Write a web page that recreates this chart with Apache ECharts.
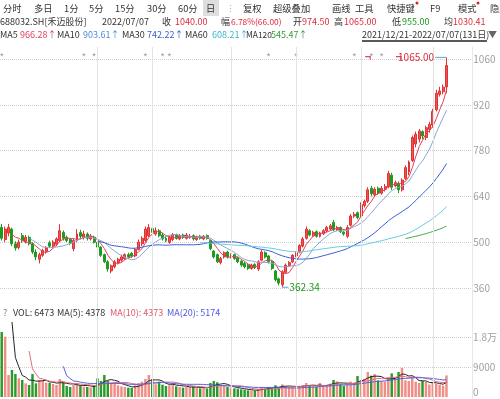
<!DOCTYPE html>
<html><head><meta charset="utf-8">
<script src="https://cdn.jsdelivr.net/npm/echarts@6/dist/echarts.min.js"></script>
<style>html,body{margin:0;padding:0;background:#fff}#c{width:500px;height:399px}</style>
</head><body><div id="c"></div>
<script>
// ---------- data ----------
const monthDays = [
  ['2021/12', [21,22,23,24,27,28,29,30,31]],
  ['2022/01', [4,5,6,7,10,11,12,13,14,17,18,19,20,21,24,25,26,27,28]],
  ['2022/02', [7,8,9,10,11,14,15,16,17,18,21,22,23,24,25,28]],
  ['2022/03', [1,2,3,4,7,8,9,10,11,14,15,16,17,18,21,22,23,24,25,28,29,30,31]],
  ['2022/04', [1,6,7,8,11,12,13,14,15,18,19,20,21,22,25,26,27,28,29]],
  ['2022/05', [5,6,9,10,11,12,13,16,17,18,19,20,23,24,25,26,27,30,31]],
  ['2022/06', [1,2,6,7,8,9,10,13,14,15,16,17,20,21,22,23,24,27,28,29,30]],
  ['2022/07', [1,4,5,6,7]]
];
const opens = [545,508,528,540,495,484,520,502,515,495,470,448,460,472,498,488,494,505,530,515,
508,480,505,530,515,525,510,515,500,485,462,440,412,425,438,445,450,462,466,458,
478,495,505,520,542,525,535,522,512,500,508,522,510,522,512,515,520,508,518,510,
520,505,473,462,438,455,470,455,462,452,442,435,430,420,432,418,445,468,458,440,
412,388,370,408,428,440,458,470,488,512,535,520,532,518,526,535,540,560,538,545,
530,518,552,580,590,580,612,625,665,645,665,650,662,670,705,672,680,660,695,715,
750,800,815,838,820,845,858,905,952,960,974.5];
const closes = [512,540,545,495,482,500,505,515,495,470,455,462,475,482,488,500,510,535,512,505,
497,505,525,518,525,512,518,500,485,460,440,418,428,440,448,455,462,455,458,478,
500,512,540,545,530,535,520,510,505,515,522,512,520,515,522,518,510,516,512,518,
512,480,455,440,450,468,455,462,450,440,430,425,420,430,422,440,470,455,440,420,
385,375,410,430,438,460,468,490,510,540,522,530,518,528,535,545,550,538,545,532,
525,545,580,585,575,615,625,660,648,662,650,665,670,710,668,682,660,690,728,745,
820,830,840,825,850,860,900,955,962,974,1040];
const lows = [505,500,518,488,474,478,498,496,490,464,445,435,455,465,482,482,488,500,505,500,
492,472,500,510,508,505,505,496,480,455,436,410,405,420,432,440,446,450,452,454,
475,488,500,515,525,520,515,505,500,495,503,508,506,510,508,510,505,504,508,506,
508,475,450,436,432,450,450,450,446,436,425,420,415,416,418,412,442,450,435,415,
380,368,362.34,404,424,436,454,466,484,508,518,516,514,514,522,530,536,534,534,528,
520,512,548,574,570,576,606,620,640,638,645,645,655,665,660,668,650,655,690,705,
745,790,805,815,812,835,850,900,945,952,955];
const highs = [556,548,556,544,503,508,528,522,520,500,478,468,480,488,505,506,515,555,536,520,
512,510,540,538,535,530,525,520,505,488,465,445,432,445,452,462,466,468,470,482,
508,518,548,555,548,545,540,528,518,520,528,526,525,526,528,525,524,520,522,522,
524,508,476,465,455,472,474,466,465,455,445,440,434,434,436,445,476,472,460,444,
415,392,414,435,442,464,472,494,516,548,540,535,536,532,540,550,556,568,550,548,
535,552,586,592,594,622,630,668,672,668,670,672,678,718,712,688,686,695,735,750,
826,838,846,842,856,868,908,966,975,982,1065];
const volumes = [19500,18100,6600,8100,6900,5600,5100,4100,3600,6900,4100,5100,4800,4300,4200,3900,3600,5400,4300,3300,
3000,3600,4200,3400,3100,3000,2900,3300,5600,4800,6600,4800,4300,4500,3500,3200,3000,2800,2700,3500,
4100,4600,5400,6600,5200,3800,4600,3700,3300,3500,4200,3200,3000,2800,3100,2900,3200,2700,2600,2800,
2500,4200,4800,4400,3500,3300,3000,2800,2600,2500,2300,2200,2000,1900,1800,2400,3000,2500,3000,2600,
3500,3000,3800,3300,2900,3100,2800,3400,3600,4200,3400,3200,3000,4200,3400,3600,4000,5100,4700,3800,
3300,3900,4600,4300,6300,5000,5400,7500,6400,6900,5000,4800,4600,5800,7100,5500,7500,8700,5000,4800,
6000,4600,4200,4800,4500,3740,4300,4000,3700,3417,6473];
// listing day (2021/12/20), before the window, only enters the moving averages
const listingClose = 530;
const listingVolume = 60200;
const priceTicks = [360, 1072, 140];
const volTicks = [0, 22800, 9000];
const maDays = [5, 10, 30, 60, 120];
const maColors = ['#e2405e', '#86a6cf', '#3c5cd6', '#62cde2', '#48a84c'];
const volMaDays = [5, 10, 20];
const volMaColors = ['#222222', '#e46a7c', '#5262e2'];
const eventIdx = [0, 24, 27, 42, 47, 49, 78, 86, 103, 108, 111];
const flagIdx = [107, 116];
const monthLineIdx = [28, 44, 67, 86, 105, 126];

// ---------- helpers ----------
const dates = [];
monthDays.forEach(([ym, ds]) => ds.forEach(d => dates.push(ym + '/' + String(d).padStart(2, '0'))));
const cats = dates.concat(['_1','_2','_3','_4','_5','_6','_7']);
function ma(arr, n) {
  const out = [];
  for (let j = 0; j < arr.length; j++) {
    if (j < n - 1) { out.push('-'); continue; }
    let s = 0; for (let k = j - n + 1; k <= j; k++) s += arr[k];
    out.push(+(s / n).toFixed(2));
  }
  return out.slice(1);
}
const fullClose = [listingClose].concat(closes);
const fullVol = [listingVolume].concat(volumes);
const kData = closes.map((c, i) => [opens[i], c, lows[i], highs[i]]);
const volData = volumes.map((v, i) => ({ value: v, itemStyle: { color: closes[i] >= opens[i] ? '#f08d86' : '#2b9a2b' } }));

const FONT = '"Noto Sans CJK SC", "Noto Sans", sans-serif';
const RED = '#dd2c3c', GREEN = '#1b961b', DARK = '#333333';
function t(x, y, s, fill, size) {
  return { type: 'text', x: x, y: y, z: 10,
    style: { text: s, fill: fill || DARK, font: (size || 9) + 'px ' + FONT, verticalAlign: 'middle', align: 'left' } };
}
const M = 9.3;
const pxPer = 229 / 700;
const G = { left: -1, width: 473.3 };

const graphics = [
  { type: 'rect', shape: { x: 203, y: 0, width: 16, height: 16 }, style: { fill: '#dedede' }, z: 5 },
  t(3, 8, '分时', DARK, M), t(34, 8, '多日', DARK, M), t(64, 8, '1分', DARK, M), t(89, 8, '5分', DARK, M),
  t(115, 8, '15分', DARK, M), t(147, 8, '30分', DARK, M), t(178, 8, '60分', DARK, M), t(206, 8, '日', DARK, M),
  t(226, 8, '⋮', '#aaaaaa', M),
  t(243, 8, '复权', DARK, M), t(273, 8, '超级叠加', DARK, M), t(332, 8, '画线', DARK, M), t(355, 8, '工具', DARK, M),
  t(387, 8, '快捷键', DARK, M), t(430, 8, 'F9', DARK, M), t(458, 8, '模式', DARK, M), t(490, 8, '隐藏', DARK, M),
  { type: 'circle', shape: { cx: 417, cy: 3, r: 1.5 }, style: { fill: '#e02020' }, z: 10 },
  { type: 'circle', shape: { cx: 478, cy: 3, r: 1.5 }, style: { fill: '#e02020' }, z: 10 },
  t(0, 22, '688032.SH[禾迈股份]'), t(102, 22, '2022/07/07'),
  t(162, 22, '收'), t(175, 22, '1040.00', RED), t(221, 22, '幅'), t(231, 22, '6.78%(66.00)', RED, 8.4),
  t(293, 22, '开'), t(302, 22, '974.50', RED), t(334, 22, '高'), t(344, 22, '1065.00', RED),
  t(392, 22, '低'), t(402, 22, '955.00', GREEN), t(444, 22, '均'), t(453, 22, '1030.41', RED),
  t(0, 35, 'MA5'), t(20, 35, '966.28↑', maColors[0]),
  t(57, 35, 'MA10'), t(83, 35, '903.61↑', '#4f8fd4'),
  t(122, 35, 'MA30'), t(147, 35, '742.22↑', maColors[2]),
  t(185, 35, 'MA60'), t(212, 35, '608.21↑', '#3cb6cc'),
  t(246, 35, 'MA120', DARK, 8.4), t(271, 35, '545.47↑', '#2f9e3a'),
  t(362, 35, '2021/12/21-2022/07/07(131日)'), t(488, 35, '▼', '#666666', 9),
  { type: 'rect', shape: { x: 362, y: 40, width: 125, height: 2 }, style: { fill: '#5a5a5a' }, z: 10 },
  t(3, 313, '?', '#777777'), t(13, 313, 'VOL: 6473'), t(57, 313, 'MA(5): 4378'),
  t(110, 313, 'MA(10): 4373', '#e05a6a'), t(167, 313, 'MA(20): 5174', '#4a5ae0'),
  { type: 'text', x: 352, y: 396, z: 0,
    style: { text: 'Wind', fill: '#eaeaea', font: 'bold 60px "Liberation Sans", Arial, sans-serif', verticalAlign: 'alphabetic' } }
];

const xAx = gi => ({ type: 'category', gridIndex: gi, data: cats, boundaryGap: true,
  axisLine: { show: false }, axisTick: { show: false }, axisLabel: { show: false }, splitLine: { show: false } });
const dotted = { type: 'dotted', color: '#cfcfcf', width: 1 };

const series = [];
series.push({ type: 'line', xAxisIndex: 2, yAxisIndex: 2, data: [], z: 0, silent: true,
  markLine: { silent: true, symbol: 'none', label: { show: false }, animation: false,
    lineStyle: { color: '#e3e3e3', type: 'solid', width: 1 },
    data: monthLineIdx.map(i => ({ xAxis: dates[i] })) } });
series.push({ type: 'candlestick', xAxisIndex: 0, yAxisIndex: 0, data: kData, barWidth: '72%', clip: false,
  itemStyle: { color: '#ef5454', color0: '#1f9a1f', borderColor: '#e23333', borderColor0: '#1f9a1f', borderWidth: 1 },
  markPoint: { symbol: 'rect', animation: false,
    label: { show: true, fontSize: 10, fontFamily: FONT, distance: 1 },
    data: [
      { type: 'max', valueDim: 'highest', symbolSize: [11, 1], symbolOffset: [-6, 0], itemStyle: { color: '#5aa6d6' },
        label: { position: 'left', color: RED, formatter: p => Number(p.value).toFixed(2) } },
      { type: 'min', valueDim: 'lowest', symbolSize: [6, 1], symbolOffset: [3, 0], itemStyle: { color: '#5aa6d6' },
        label: { position: 'right', color: GREEN, formatter: p => Number(p.value).toFixed(2) } }
    ] } });
maDays.forEach((n, k) => series.push({ type: 'line', xAxisIndex: 0, yAxisIndex: 0, data: ma(fullClose, n),
  showSymbol: false, smooth: false, lineStyle: { width: 1, color: maColors[k] }, z: 3 }));
series.push({ type: 'scatter', xAxisIndex: 0, yAxisIndex: 0, clip: false, symbolSize: 1,
  itemStyle: { color: 'transparent' }, data: eventIdx.map(i => [dates[i], 1066]),
  label: { show: true, position: 'inside', formatter: '*', color: '#888888', fontSize: 10, fontFamily: FONT } });
series.push({ type: 'scatter', xAxisIndex: 0, yAxisIndex: 0, clip: false, symbolSize: 1,
  itemStyle: { color: 'transparent' }, data: flagIdx.map(i => [dates[i], 1066]),
  label: { show: true, position: 'inside', formatter: '¬', color: '#d81e2e', fontSize: 11, fontWeight: 'bold', fontFamily: FONT } });
series.push({ type: 'bar', xAxisIndex: 1, yAxisIndex: 1, data: volData, barWidth: '72%', z: 2 });
volMaDays.forEach((n, k) => series.push({ type: 'line', xAxisIndex: 1, yAxisIndex: 1, data: ma(fullVol, n),
  showSymbol: false, lineStyle: { width: 1, color: volMaColors[k] }, z: 3 }));

const pTop = 59 - (priceTicks[1] - 1060) * pxPer;
const option = {
  animation: false,
  textStyle: { fontFamily: FONT },
  grid: [
    Object.assign({ top: pTop, height: 288 - pTop }, G),
    Object.assign({ top: 321, height: 76 }, G),
    Object.assign({ top: 47, height: 352 }, G)
  ],
  xAxis: [xAx(0), xAx(1), xAx(2)],
  yAxis: [
    { type: 'value', gridIndex: 0, position: 'right', min: priceTicks[0], max: priceTicks[1], interval: priceTicks[2],
      axisLine: { show: false }, axisTick: { show: false },
      axisLabel: { fontSize: 10, color: '#a0a0a0', margin: 1, fontFamily: FONT, showMaxLabel: false, formatter: v => String(v) },
      splitLine: { show: true, showMaxLine: false, lineStyle: dotted } },
    { type: 'value', gridIndex: 1, position: 'right', min: volTicks[0], max: volTicks[1], interval: volTicks[2],
      axisLine: { show: false }, axisTick: { show: false },
      axisLabel: { fontSize: 10, color: '#a0a0a0', margin: 1, fontFamily: FONT, showMaxLabel: false,
        verticalAlignMinLabel: 'bottom',
        formatter: v => v >= 10000 ? (v / 10000) + '万' : String(v) },
      splitLine: { show: true, showMaxLine: false, showMinLine: false, lineStyle: dotted } },
    { type: 'value', gridIndex: 2, position: 'right', min: 0, max: 1,
      axisLine: { show: true, lineStyle: { color: '#e8e8e8' } }, axisTick: { show: false },
      axisLabel: { show: false }, splitLine: { show: false } }
  ],
  graphic: graphics,
  series: series
};
const chart = echarts.init(document.getElementById('c'), null, { renderer: 'canvas' });
chart.setOption(option);
</script></body></html>
